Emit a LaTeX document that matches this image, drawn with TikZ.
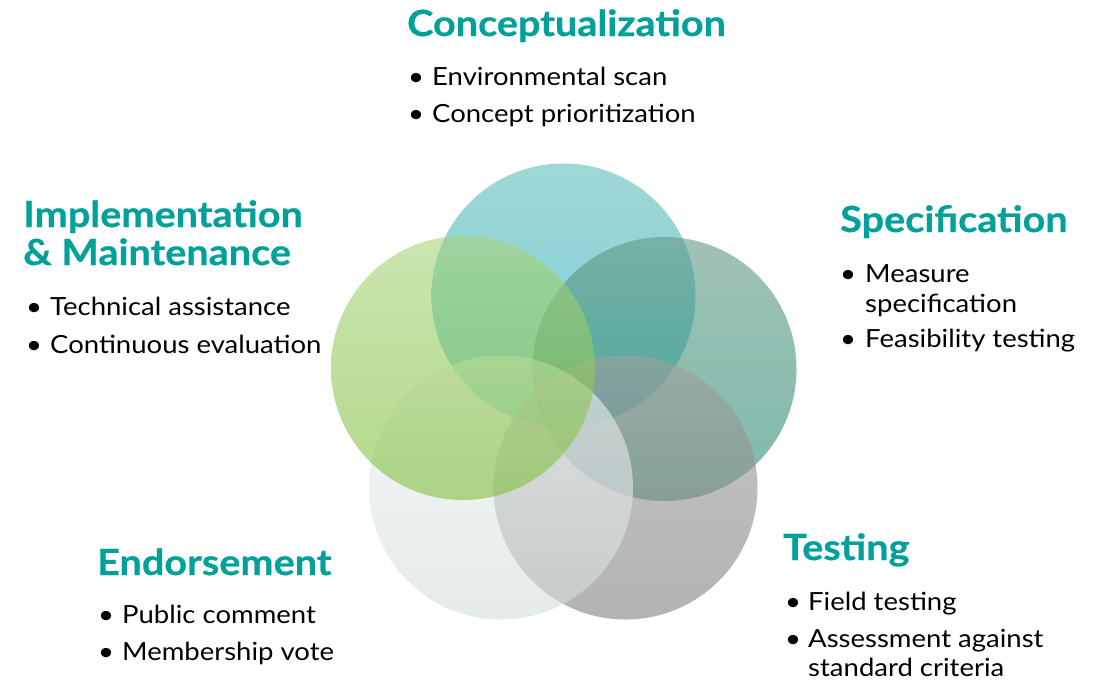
\documentclass[tikz,border=0pt]{standalone}
\usepackage{fontspec}
\setmainfont{Lato}[FakeStretch=1.1]
\newfontfamily\headfont{Lato}[FakeStretch=1.1,BoldFeatures={FakeBold=0.6}]
\definecolor{titlecol}{RGB}{0,161,154}
\definecolor{cTopA}{RGB}{97,187,187}
\definecolor{cTopB}{RGB}{25,180,186}
\definecolor{cRightA}{RGB}{97,153,135}
\definecolor{cRightB}{RGB}{38,138,113}
\definecolor{cBRA}{RGB}{160,160,160}
\definecolor{cBRB}{RGB}{128,128,128}
\definecolor{cBLA}{RGB}{238,243,243}
\definecolor{cBLB}{RGB}{210,220,220}
\definecolor{cLeftA}{RGB}{168,212,122}
\definecolor{cLeftB}{RGB}{128,190,62}
\tikzset{
  disc/.style={opacity=0.6},
  heading/.style={anchor=base west, inner sep=0pt, text=titlecol, font=\headfont\fontsize{36}{40}\selectfont\bfseries},
  item/.style={anchor=base west, inner sep=0pt, font=\fontsize{25}{30}\selectfont},
  bul/.style={anchor=base west, inner sep=0pt, font=\fontsize{25}{30}\selectfont}
}
\begin{document}
\begin{tikzpicture}[x=1pt,y=-1pt]
\useasboundingbox (0,0) rectangle (1099,681);
% circles
\shade[disc, top color=cTopA, bottom color=cTopB] (563.5,295.5) circle (132);
\shade[disc, top color=cRightA, bottom color=cRightB] (664.5,369) circle (132);
\shade[disc, top color=cBRA, bottom color=cBRB] (625.5,487.5) circle (132);
\shade[disc, top color=cBLA, bottom color=cBLB] (501,487.5) circle (132);
\shade[disc, top color=cLeftA, bottom color=cLeftB] (463,368) circle (132);
% Conceptualization
\node[heading] (h1) at (407,36) {Conceptualization};
\node[bul] (b1a) at (408,85) {•};
\node[item] (t1a) at (432,85) {Environmental scan};
\node[bul] (b1b) at (408,122) {•};
\node[item] (t1b) at (432,122) {Concept prioritization};
% Implementation
\node[heading] (h2) at (23,227) {Implementation};
\node[heading] (h2b) at (23,265) {\& Maintenance};
\node[bul] (b2a) at (26,315) {•};
\node[item] (t2a) at (50,315) {Technical assistance};
\node[bul] (b2b) at (26,353) {•};
\node[item] (t2b) at (50,353) {Continuous evaluation};
% Specification
\node[heading] (h3) at (840,232) {Specification};
\node[bul] (b3a) at (840,282) {•};
\node[item] (t3a) at (865,282) {Measure};
\node[item] (t3a2) at (865,312) {specification};
\node[bul] (b3b) at (840,347) {•};
\node[item] (t3b) at (865,347) {Feasibility testing};
% Endorsement
\node[heading] (h4) at (97,575) {Endorsement};
\node[bul] (b4a) at (98,623) {•};
\node[item] (t4a) at (122,623) {Public comment};
\node[bul] (b4b) at (98,660) {•};
\node[item] (t4b) at (122,660) {Membership vote};
% Testing
\node[heading] (h5) at (783,560) {Testing};
\node[bul] (b5a) at (785,610) {•};
\node[item] (t5a) at (808,610) {Field testing};
\node[bul] (b5b) at (785,647) {•};
\node[item] (t5b) at (808,647) {Assessment against};
\node[item] (t5b2) at (808,676) {standard criteria};
\end{tikzpicture}
\end{document}
